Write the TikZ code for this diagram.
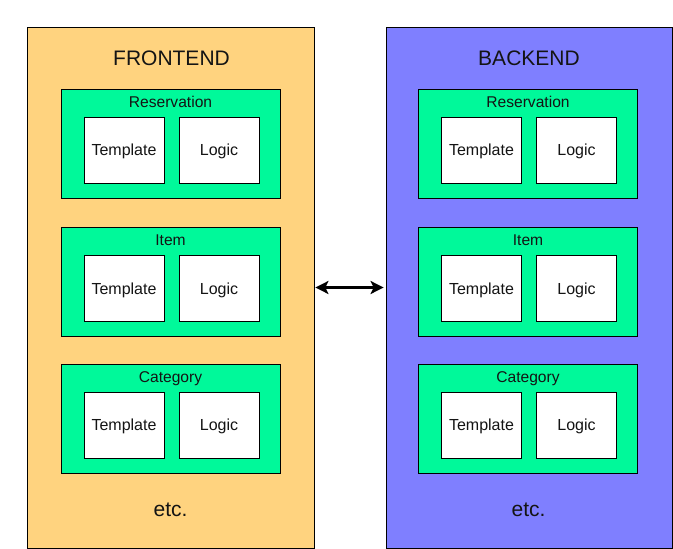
\documentclass[tikz,border=0pt]{standalone}
\usepackage{fontspec}
\setmainfont{Liberation Sans}
\usetikzlibrary{arrows.meta}
\definecolor{frontc}{RGB}{255,211,127}
\definecolor{backc}{RGB}{127,127,255}
\definecolor{modc}{RGB}{0,249,154}
\definecolor{txtc}{RGB}{20,20,20}
\tikzset{
  panel/.style={draw=black, line width=0.8pt, minimum width=287pt, minimum height=521pt, inner sep=0pt},
  modbox/.style={draw=black, line width=0.8pt, fill=modc, minimum width=219pt, minimum height=109pt, inner sep=0pt},
  partbox/.style={draw=black, line width=0.8pt, fill=white, minimum width=80pt, minimum height=66pt, inner sep=0pt, text depth=0pt, text=txtc, font=\fontsize{16}{18}\selectfont},
  modlabel/.style={inner sep=0pt, text depth=0pt, text=txtc, font=\fontsize{15.6}{18}\selectfont},
  biglabel/.style={inner sep=0pt, text depth=0pt, text=txtc, font=\fontsize{21}{24}\selectfont},
  link/.style={line width=2.4pt, {Stealth[length=13pt,width=13pt,inset=3pt]}-{Stealth[length=13pt,width=13pt,inset=3pt]}}
}
\begin{document}
\begin{tikzpicture}[x=1pt,y=-1pt]
\useasboundingbox (0,0) rectangle (673,549);
\fill[white] (0,0) rectangle (673,549);
\node[panel, fill=frontc] (front) at (170.5,287.5) {};
\node[panel, fill=backc, minimum width=286pt] (back) at (529,287.5) {};
\node[biglabel] (fronttitle) at (171.5,58) {FRONTEND};
\node[biglabel] (backtitle) at (529,58) {BACKEND};
\node[biglabel] (frontetc) at (170.5,510) {etc.};
\node[biglabel] (backetc) at (528.5,510) {etc.};
\foreach \side/\cx in {f/170.5, b/528}{
  \foreach \name/\cy/\lab in {res/143.5/Reservation, item/282/Item, cat/418.5/Category}{
    \node[modbox] (\side\name) at (\cx,\cy) {};
    \node[modlabel] (\side\name lab) at (\cx,\cy-41.5) {\lab};
    \node[partbox] (\side\name tpl) at (\cx-46.5,\cy+6.5) {Template};
    \node[partbox] (\side\name log) at (\cx+48.5,\cy+6.5) {Logic};
  }
}
\draw[link] ([xshift=1pt]front.east) -- ([xshift=-2pt]back.west);
\end{tikzpicture}
\end{document}
